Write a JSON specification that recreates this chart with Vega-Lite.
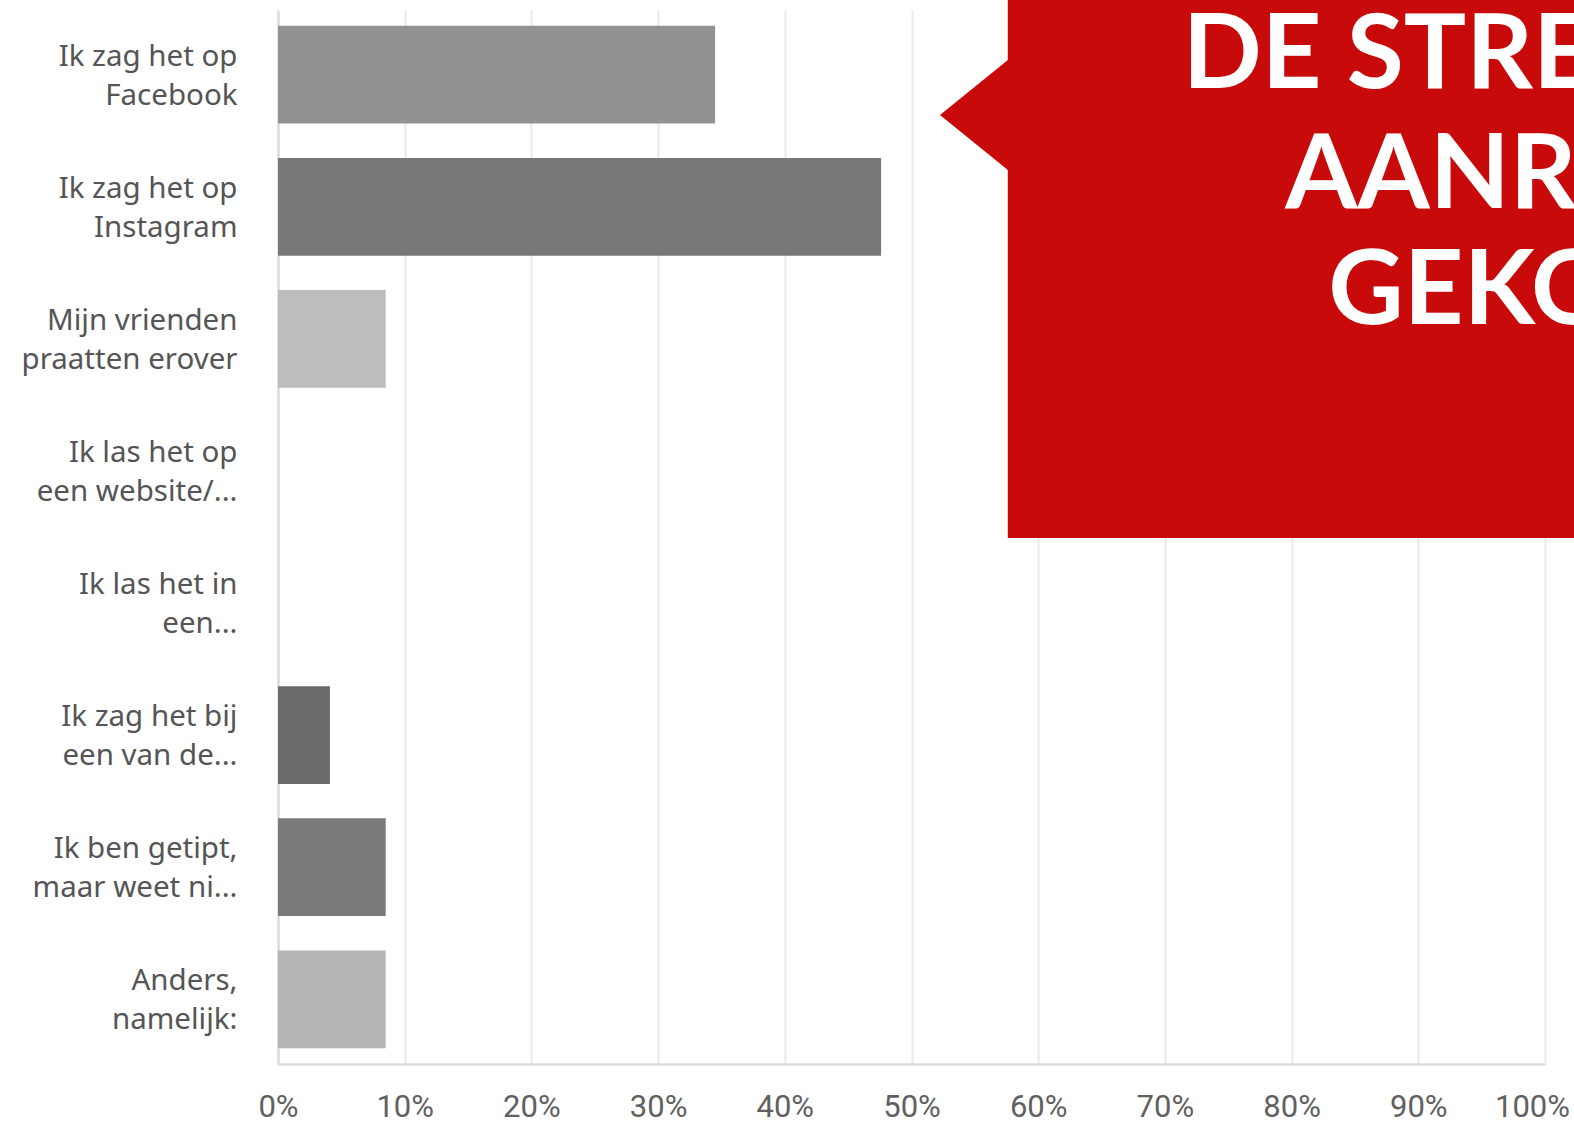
{
  "$schema": "https://vega.github.io/schema/vega-lite/v6.json",
  "width": 1267,
  "height": 1054,
  "autosize": "none",
  "padding": {"left": 278, "top": 10, "right": 29, "bottom": 60},
  "background": "white",
  "config": {
    "view": {"stroke": null},
    "axis": {"ticks": false, "domainColor": "#dcdcdc", "domainWidth": 2.5, "gridColor": "#e9e9e9", "gridWidth": 2}
  },
  "datasets": {
    "antwoorden": [
      {"antwoord": "Ik zag het op\nFacebook", "percentage": 34.5},
      {"antwoord": "Ik zag het op\nInstagram", "percentage": 47.6},
      {"antwoord": "Mijn vrienden\npraatten erover", "percentage": 8.5},
      {"antwoord": "Ik las het op\neen website/...", "percentage": 0},
      {"antwoord": "Ik las het in\neen...", "percentage": 0},
      {"antwoord": "Ik zag het bij\neen van de...", "percentage": 4.1},
      {"antwoord": "Ik ben getipt,\nmaar weet ni...", "percentage": 8.5},
      {"antwoord": "Anders,\nnamelijk:", "percentage": 8.5}
    ],
    "kader": [
      {"x": 57.6, "x2": 104, "y": -12, "y2": 528}
    ],
    "pijl": [
      {"x": 52.25, "y": 105, "y2": 105},
      {"x": 57.8, "y": 48, "y2": 162}
    ],
    "titel": [
      {"regel": "DE STRE", "x": 71.4, "y": 78.3},
      {"regel": "AANRA", "x": 79.5, "y": 198},
      {"regel": "GEKO", "x": 82.9, "y": 314}
    ]
  },
  "layer": [
    {
      "data": {"name": "antwoorden"},
      "mark": {"type": "bar"},
      "encoding": {
        "y": {
          "field": "antwoord", "type": "nominal", "sort": null,
          "scale": {"paddingInner": 0.26, "paddingOuter": 0.12},
          "axis": {
            "title": null, "grid": false, "domain": true,
            "labelExpr": "split(datum.label, '\\n')",
            "labelFont": "Noto Sans", "labelFontSize": 29.5, "labelColor": "#555555",
            "labelLineHeight": 39, "labelPadding": 41, "labelLimit": 400, "labelOffset": -18
          }
        },
        "x": {
          "field": "percentage", "type": "quantitative",
          "scale": {"domain": [0, 100], "nice": false},
          "axis": {
            "title": null, "values": [0, 10, 20, 30, 40, 50, 60, 70, 80, 90, 100],
            "labelExpr": "datum.value + '%'", "labelAlign": "center", "labelFlush": false,
            "labelOffset": {"condition": {"test": "datum.value == 100", "value": -13}, "value": 0},
            "labelFont": "Roboto", "labelFontSize": 31, "labelColor": "#606060",
            "labelPadding": 28, "grid": true
          }
        },
        "color": {
          "field": "antwoord", "type": "nominal", "legend": null,
          "scale": {
            "domain": ["Ik zag het op\nFacebook", "Ik zag het op\nInstagram", "Mijn vrienden\npraatten erover", "Ik las het op\neen website/...", "Ik las het in\neen...", "Ik zag het bij\neen van de...", "Ik ben getipt,\nmaar weet ni...", "Anders,\nnamelijk:"],
            "range": ["#929292", "#787878", "#bdbdbd", "#999999", "#999999", "#6a6a6a", "#7a7a7a", "#b5b5b5"]
          }
        }
      }
    },
    {
      "data": {"name": "kader"},
      "mark": {"type": "rect", "color": "#c80a0a", "clip": false},
      "encoding": {
        "x": {"field": "x", "type": "quantitative", "scale": {"domain": [0, 100], "nice": false}},
        "x2": {"field": "x2"},
        "y": {"field": "y", "type": "quantitative", "axis": null, "scale": {"domain": [0, 1054], "reverse": true, "nice": false, "zero": false}},
        "y2": {"field": "y2"}
      }
    },
    {
      "data": {"name": "pijl"},
      "mark": {"type": "area", "color": "#c80a0a", "clip": false, "orient": "vertical"},
      "encoding": {
        "x": {"field": "x", "type": "quantitative", "scale": {"domain": [0, 100], "nice": false}},
        "y": {"field": "y", "type": "quantitative", "axis": null, "scale": {"domain": [0, 1054], "reverse": true, "nice": false, "zero": false}},
        "y2": {"field": "y2"}
      }
    },
    {
      "data": {"name": "titel"},
      "mark": {"type": "text", "color": "white", "font": "Lato", "fontWeight": "bold", "fontSize": 104, "align": "left", "baseline": "alphabetic", "clip": false},
      "encoding": {
        "x": {"field": "x", "type": "quantitative", "scale": {"domain": [0, 100], "nice": false}},
        "y": {"field": "y", "type": "quantitative", "axis": null, "scale": {"domain": [0, 1054], "reverse": true, "nice": false, "zero": false}},
        "text": {"field": "regel"}
      }
    }
  ],
  "resolve": {"scale": {"y": "independent", "color": "independent"}}
}
